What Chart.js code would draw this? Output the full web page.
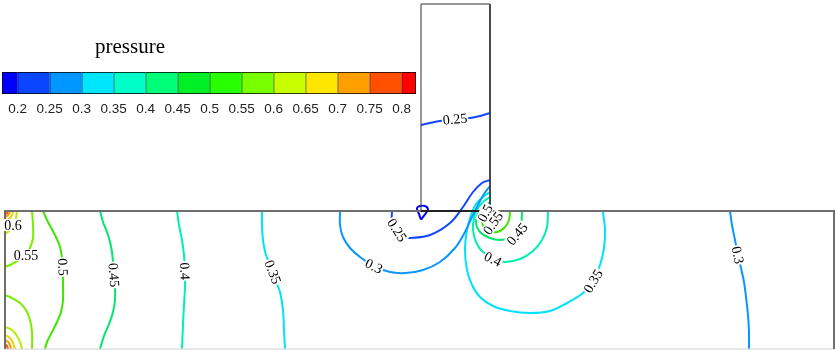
<!DOCTYPE html>
<html>
<head>
<meta charset="utf-8">
<script src="https://cdn.jsdelivr.net/npm/chart.js@4/dist/chart.umd.min.js"></script>
<style>
  body { margin: 0; background: #fff; }
  #wrap { position: relative; width: 836px; height: 350px; }
  #title { position: absolute; left: 95px; top: 34px; font: 21px "Liberation Serif"; line-height: 24px; color: #000; }
  #barBox { position: absolute; left: 0; top: 60px; }
</style>
</head>
<body>
<div id="wrap">
  <canvas id="main" width="836" height="350"></canvas>
  <div id="title">pressure</div>
  <div id="barBox"><canvas id="bar" width="418" height="56"></canvas></div>
</div>
<script>
// colour bar
var tickValues = [0.2, 0.25, 0.3, 0.35, 0.4, 0.45, 0.5, 0.55, 0.6, 0.65, 0.7, 0.75, 0.8];
var barEdges = [0.1756, 0.2, 0.25, 0.3, 0.35, 0.4, 0.45, 0.5, 0.55, 0.6, 0.65, 0.7, 0.75, 0.8, 0.8225];
var barColors = ['#0000ff', '#0a46ff', '#0096ff', '#00e6ff', '#00ffc8', '#00ff78', '#00f028',
  '#28ff00', '#78ff00', '#c8ff00', '#ffe600', '#ffa000', '#ff5000', '#ff0000'];

// geometry (x along channel, y up from channel floor)
var channel = [[0, 0], [0, 138], [829, 138], [829, 0]];
var channelFloor = [[0, 0], [829, 0]];
var inlet = [[416, 138], [416, 345], [485, 345], [485, 138]];
var inletFloor = [[416, 138], [485, 138]];

// contour lines
var c02Loop = [[413,137],[412,141],[415,143],[420,143],[423,140],[421,136],[418,132],[416,130],[414,135],[413,137]];
var c025Box = [[416,224],[425,226],[435,228],[450,230],[465,231],[475,233],[485,236]];
var c025Arc = [[387,138],[387,129],[392,119],[398,112],[405,111],[425,114],[445,126],[458,142],[468,157],[477,166],[485,169]];
var c03Arch = [[335,138],[335,124],[338,112],[345,101],[355,92],[369,83],[385,77],[400,76],[418,79],[435,87],[450,101],[460,117],[467,132],[473,144],[479,155],[485,163]];
var c03Right = [[725,138],[727,124],[730,109],[733,94],[736,81],[739,67],[741,52],[743,34],[744,17],[744,0]];
var c035Left = [[257,138],[257,124],[258,109],[261,94],[268,77],[271,67],[275,57],[278,39],[279,19],[280,0]];
var c035Jet = [[485,157],[478,152],[471,145],[466,134],[462,119],[460,99],[462,79],[467,64],[475,52],[488,43],[505,38],[525,36],[545,38],[562,46],[578,56],[588,68],[595,84],[599,101],[600,119],[598,137]];
var c04Left = [[172,138],[174,124],[177,109],[179,94],[180,78],[180,62],[179,44],[178,24],[177,0]];
var c04Jet = [[485,152],[479,148],[473,141],[469,131],[468,119],[471,107],[477,98],[488,90],[500,87],[515,90],[528,98],[537,109],[542,122],[543,137]];
var c045Left = [[95,138],[98,127],[102,117],[105,107],[107,97],[108,87],[109,74],[110,61],[110,49],[108,37],[104,25],[99,13],[95,0]];
var c045Jet = [[485,147],[474,137],[471,127],[475,117],[485,111],[495,109],[505,111],[512,115],[516,124],[517,137]];
var c05Left = [[38,138],[43,127],[50,114],[55,102],[57,91],[58,82],[58,64],[58,49],[56,37],[52,27],[47,17],[42,7],[40,0]];
var c05Jet = [[485,142],[480,136],[477,127],[482,119],[492,117],[500,122],[504,129],[505,137]];
var c055Top = [[27,138],[28,124],[28,111],[25,101],[21,94],[14,89],[7,85],[0,82]];
var c055Bottom = [[0,54],[7,51],[15,46],[21,39],[25,29],[27,17],[27,0]];
var c055Jet = [[479,137],[479,131],[483,127],[488,126],[491,130],[491,137]];
var c06Top = [[12,138],[11,131],[8,124],[4,118],[0,115]];
var c06Bottom = [[0,22],[7,19],[12,13],[15,7],[17,0]];
var c065Top = [[8,138],[7,134],[4,130],[0,129]];
var c065Bottom = [[0,14],[5,11],[8,6],[10,0]];
var c07Top = [[5,138],[4,135],[2,133],[0,132]];
var c07Bottom = [[0,9],[4,6],[6,0]];
var c075Top = [[3,138],[2,136],[0,135]];
var c075Bottom = [[0,5],[2,3],[3,0]];

var contourLines = [
  ['c02Loop', '0.2', c02Loop], ['c025Box', '0.25', c025Box], ['c025Arc', '0.25', c025Arc],
  ['c03Arch', '0.3', c03Arch], ['c03Right', '0.3', c03Right],
  ['c035Left', '0.35', c035Left], ['c035Jet', '0.35', c035Jet],
  ['c04Left', '0.4', c04Left], ['c04Jet', '0.4', c04Jet],
  ['c045Left', '0.45', c045Left], ['c045Jet', '0.45', c045Jet],
  ['c05Left', '0.5', c05Left], ['c05Jet', '0.5', c05Jet],
  ['c055Top', '0.55', c055Top], ['c055Bottom', '0.55', c055Bottom], ['c055Jet', '0.55', c055Jet],
  ['c06Top', '0.6', c06Top], ['c06Bottom', '0.6', c06Bottom],
  ['c065Top', '0.65', c065Top], ['c065Bottom', '0.65', c065Bottom],
  ['c07Top', '0.7', c07Top], ['c07Bottom', '0.7', c07Bottom],
  ['c075Top', '0.75', c075Top], ['c075Bottom', '0.75', c075Bottom]
];

// [line, point index, fixed angle in degrees (optional)]
var contourLabels = [
  ['c025Box', 3], ['c025Arc', 2], ['c03Arch', 5], ['c03Right', 3],
  ['c035Left', 4], ['c035Jet', 15], ['c04Left', 4], ['c04Jet', 7],
  ['c045Left', 6], ['c045Jet', 7], ['c05Left', 5], ['c05Jet', 1],
  ['c055Top', 4, 0], ['c055Jet', 3, -55], ['c06Top', 2, 0]
];

var levelColors = {
  '0.2': '#0000ff', '0.25': '#1446ff', '0.3': '#0a96ff', '0.35': '#00e1ff', '0.4': '#00f0b4',
  '0.45': '#00e66e', '0.5': '#3ce600', '0.55': '#78ee00', '0.6': '#b4ee00', '0.65': '#f0d200',
  '0.7': '#ff9600', '0.75': '#ff5000'
};

var toXY = function (pts) {
  return pts.map(function (p) { return { x: p[0], y: p[1] }; });
};

var outline = function (name, pts, color, width) {
  return { label: name, data: toXY(pts), showLine: true, fill: false, pointRadius: 0,
    borderColor: color, borderWidth: width, tension: 0 };
};

var datasets = [
  outline('inletFloor', inletFloor, '#222', 2),
  outline('inlet', inlet, '#333', 1),
  outline('channel', channel, '#6e6e6e', 2),
  outline('channelFloor', channelFloor, '#d0d0d0', 1)
];
contourLines.forEach(function (c) {
  datasets.push({ label: c[0], level: c[1], data: toXY(c[2]), showLine: true, fill: false,
    pointRadius: 0, borderColor: levelColors[c[1]], borderWidth: 2, tension: 0.35 });
});

var labelPlugin = {
  id: 'contourLabels',
  afterDatasetsDraw: function (chart) {
    var ctx = chart.ctx;
    ctx.save();
    ctx.font = '14px "Liberation Serif"';
    ctx.textAlign = 'center';
    ctx.textBaseline = 'middle';
    contourLabels.forEach(function (l) {
      var di = chart.data.datasets.findIndex(function (d) { return d.label === l[0]; });
      var pts = chart.getDatasetMeta(di).data;
      var text = chart.data.datasets[di].level;
      var p = pts[l[1]];
      var a = pts[Math.max(l[1] - 1, 0)];
      var b = pts[Math.min(l[1] + 1, pts.length - 1)];
      var ang = l.length > 2 ? l[2] * Math.PI / 180 : Math.atan2(b.y - a.y, b.x - a.x);
      if (ang > Math.PI / 2) ang -= Math.PI;
      if (ang < -Math.PI / 2) ang += Math.PI;
      ctx.save();
      ctx.translate(p.x, p.y);
      ctx.rotate(ang);
      var w = ctx.measureText(text).width;
      ctx.fillStyle = '#fff';
      ctx.fillRect(-w / 2 - 1, -6, w + 2, 12);
      ctx.fillStyle = '#000';
      ctx.fillText(text, 0, 1);
      ctx.restore();
    });
    ctx.restore();
  }
};

new Chart(document.getElementById('main').getContext('2d'), {
  type: 'scatter',
  data: { datasets: datasets },
  options: {
    responsive: false,
    animation: false,
    devicePixelRatio: 1,
    layout: { padding: 0 },
    plugins: { legend: { display: false }, tooltip: { enabled: false } },
    scales: {
      x: { type: 'linear', min: -5, max: 831, display: false },
      y: { type: 'linear', min: -1, max: 349, display: false }
    }
  },
  plugins: [labelPlugin]
});

new Chart(document.getElementById('bar').getContext('2d'), {
  type: 'bar',
  data: {
    labels: ['pressure'],
    datasets: barColors.map(function (c, i) {
      return {
        data: [[barEdges[i], barEdges[i + 1]]],
        backgroundColor: c,
        borderColor: '#000',
        borderWidth: { top: 1, bottom: 1, left: 1, right: i === barColors.length - 1 ? 1 : 0 },
        borderSkipped: false,
        barPercentage: 1,
        categoryPercentage: 1
      };
    })
  },
  options: {
    indexAxis: 'y',
    responsive: false,
    animation: false,
    devicePixelRatio: 1,
    layout: { padding: { left: 2, right: 2, top: 12, bottom: 0 } },
    plugins: { legend: { display: false }, tooltip: { enabled: false } },
    scales: {
      y: { display: false, stacked: true },
      x: {
        type: 'linear', min: barEdges[0], max: barEdges[barEdges.length - 1],
        grid: { display: false, drawTicks: false },
        border: { display: false },
        afterBuildTicks: function (s) { s.ticks = tickValues.map(function (v) { return { value: v }; }); },
        ticks: { padding: 7, color: '#222', font: { family: 'Liberation Sans', size: 13.5 },
          callback: function (v) { return String(v); } }
      }
    }
  }
});
</script>
</body>
</html>
